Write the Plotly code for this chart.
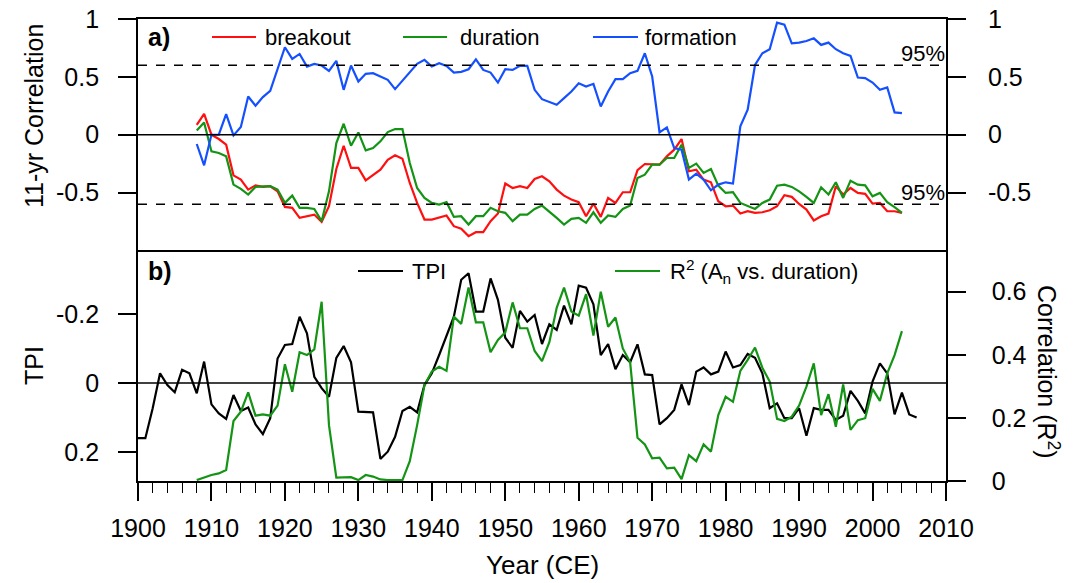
import plotly.graph_objects as go

# ---------------- data ----------------
years_a = list(range(1908, 2005))

breakout = [0.086, 0.181, 0.0, -0.037, -0.086, -0.351, -0.388, -0.474, -0.437, -0.451,
            -0.445, -0.489, -0.624, -0.632, -0.718, -0.704, -0.690, -0.753, -0.618, -0.296,
            -0.095, -0.287, -0.287, -0.394, -0.351, -0.302, -0.216, -0.178, -0.207, -0.417,
            -0.589, -0.733, -0.733, -0.718, -0.698, -0.790, -0.813, -0.876, -0.842, -0.842,
            -0.747, -0.681, -0.422, -0.460, -0.445, -0.460, -0.382, -0.359, -0.402, -0.474,
            -0.526, -0.560, -0.583, -0.704, -0.595, -0.710, -0.546, -0.589, -0.497, -0.497,
            -0.307, -0.253, -0.253, -0.259, -0.187, -0.129, -0.037, -0.316, -0.302, -0.388,
            -0.411, -0.575, -0.618, -0.612, -0.681, -0.661, -0.675, -0.670, -0.652, -0.618,
            -0.523, -0.537, -0.598, -0.647, -0.741, -0.704, -0.681, -0.445, -0.517, -0.460,
            -0.503, -0.511, -0.595, -0.589, -0.661, -0.661, -0.675]

duration = [0.037, 0.106, -0.144, -0.158, -0.187, -0.431, -0.468, -0.517, -0.451, -0.451,
            -0.445, -0.474, -0.589, -0.526, -0.632, -0.632, -0.641, -0.747, -0.489, -0.072,
            0.095, -0.095, 0.020, -0.135, -0.115, -0.057, 0.023, 0.049, 0.049, -0.244,
            -0.460, -0.546, -0.589, -0.603, -0.583, -0.710, -0.704, -0.776, -0.704, -0.704,
            -0.632, -0.661, -0.675, -0.747, -0.690, -0.690, -0.641, -0.612, -0.661, -0.718,
            -0.776, -0.727, -0.718, -0.761, -0.670, -0.761, -0.698, -0.710, -0.641, -0.612,
            -0.374, -0.345, -0.259, -0.259, -0.201, -0.201, -0.086, -0.287, -0.250, -0.330,
            -0.296, -0.440, -0.503, -0.497, -0.589, -0.618, -0.641, -0.589, -0.560, -0.440,
            -0.431, -0.451, -0.489, -0.537, -0.589, -0.454, -0.517, -0.411, -0.546, -0.397,
            -0.431, -0.437, -0.532, -0.503, -0.583, -0.626, -0.675]

formation = [-0.080, -0.264, 0.0, 0.0, 0.178, -0.006, 0.066, 0.330, 0.250, 0.325,
             0.379, 0.560, 0.756, 0.655, 0.698, 0.589, 0.612, 0.598, 0.552, 0.638,
             0.388, 0.598, 0.460, 0.526, 0.532, 0.503, 0.474, 0.394, 0.468, 0.546,
             0.612, 0.647, 0.589, 0.618, 0.595, 0.537, 0.543, 0.566, 0.652, 0.560,
             0.537, 0.451, 0.566, 0.560, 0.595, 0.595, 0.388, 0.307, 0.284, 0.259,
             0.316, 0.374, 0.445, 0.417, 0.440, 0.244, 0.374, 0.480, 0.480, 0.532,
             0.552, 0.704, 0.503, 0.020, 0.063, -0.115, -0.129, -0.388, -0.336, -0.388,
             -0.480, -0.431, -0.411, -0.422, 0.072, 0.216, 0.603, 0.704, 0.739, 0.968,
             0.951, 0.790, 0.796, 0.810, 0.833, 0.776, 0.796, 0.739, 0.704, 0.681,
             0.494, 0.489, 0.451, 0.388, 0.408, 0.193, 0.187]

years_tpi = list(range(1900, 2007))
tpi = [0.160, 0.160, 0.073, -0.028, 0.006, 0.027, -0.038, -0.028, 0.030, -0.062,
       0.062, 0.088, 0.104, 0.035, 0.081, 0.071, 0.120, 0.148, 0.102, -0.071,
       -0.110, -0.113, -0.192, -0.144, -0.018, 0.015, 0.040, -0.073, -0.107, -0.060,
       0.083, 0.083, 0.085, 0.220, 0.199, 0.156, 0.081, 0.069, 0.085, 0.006,
       -0.028, -0.081, -0.139, -0.192, -0.299, -0.318, -0.207, -0.207, -0.303, -0.241,
       -0.131, -0.102, -0.209, -0.178, -0.197, -0.113, -0.170, -0.154, -0.224, -0.170,
       -0.282, -0.276, -0.228, -0.081, -0.113, -0.040, -0.081, -0.060, -0.112, -0.025,
       -0.023, 0.120, 0.102, 0.078, 0.004, 0.064, -0.033, -0.045, -0.025, -0.033,
       -0.091, -0.045, -0.052, -0.084, -0.073, -0.028, 0.073, 0.059, 0.102, 0.102,
       0.073, 0.153, 0.073, 0.078, 0.078, 0.107, 0.095, 0.023, 0.052, 0.088,
       -0.004, -0.057, -0.028, 0.091, 0.028, 0.091, 0.100]

years_r2 = list(range(1908, 2005))
r2 = [0.003, 0.012, 0.019, 0.024, 0.035, 0.190, 0.220, 0.281, 0.207, 0.211,
      0.207, 0.239, 0.370, 0.283, 0.408, 0.399, 0.417, 0.568, 0.177, 0.011,
      0.011, 0.012, 0.003, 0.019, 0.014, 0.005, 0.003, 0.003, 0.003, 0.063,
      0.177, 0.304, 0.347, 0.362, 0.349, 0.521, 0.498, 0.613, 0.503, 0.503,
      0.408, 0.447, 0.471, 0.566, 0.484, 0.484, 0.412, 0.380, 0.440, 0.549,
      0.613, 0.537, 0.524, 0.592, 0.461, 0.600, 0.489, 0.518, 0.420, 0.376,
      0.137, 0.116, 0.072, 0.074, 0.040, 0.042, 0.006, 0.082, 0.063, 0.116,
      0.093, 0.209, 0.267, 0.251, 0.349, 0.384, 0.423, 0.359, 0.315, 0.197,
      0.190, 0.204, 0.239, 0.299, 0.373, 0.209, 0.275, 0.172, 0.306, 0.162,
      0.193, 0.199, 0.292, 0.254, 0.341, 0.399, 0.475]

sig95 = [0.6, -0.6]
x_ticks = list(range(1900, 2011, 10))
ya_ticks = [1, 0.5, 0, -0.5]
ya_ticktext = ["1", "0.5", "0", "-0.5"]
tpi_ticks = [-0.2, 0, 0.2]
tpi_ticktext = ["-0.2", "0", "0.2"]
r2_ticks = [0, 0.2, 0.4, 0.6]
r2_ticktext = ["0", "0.2", "0.4", "0.6"]

# ---------------- styles ----------------
FONT = "Liberation Sans, Arial, Helvetica, sans-serif"
RED = "#ff1010"
GREEN = "#149414"
BLUE = "#1450ff"
LW = 2.2
PAD = "\u00a0\u00a0\u00a0"   # spacing in front of the right-hand R2 tick labels

fig = go.Figure()
fig.add_trace(go.Scatter(x=years_a, y=breakout, mode="lines", line=dict(color=RED, width=LW),
                         xaxis="x2", yaxis="y", showlegend=False))
fig.add_trace(go.Scatter(x=years_a, y=duration, mode="lines", line=dict(color=GREEN, width=LW),
                         xaxis="x2", yaxis="y", showlegend=False))
fig.add_trace(go.Scatter(x=years_a, y=formation, mode="lines", line=dict(color=BLUE, width=LW),
                         xaxis="x2", yaxis="y", showlegend=False))
fig.add_trace(go.Scatter(x=years_tpi, y=tpi, mode="lines", line=dict(color="black", width=LW),
                         xaxis="x", yaxis="y3", showlegend=False))
fig.add_trace(go.Scatter(x=years_r2, y=r2, mode="lines", line=dict(color=GREEN, width=LW),
                         xaxis="x", yaxis="y4", showlegend=False))
# invisible companions so that the right-hand axes of panel a (ticks / labels) get drawn
for ya in ["y2", "y5"]:
    fig.add_trace(go.Scatter(x=years_a, y=formation, mode="lines", line=dict(color="white", width=0),
                             opacity=0, hoverinfo="skip", xaxis="x2", yaxis=ya, showlegend=False))

tickfont = dict(family=FONT, size=25, color="black")
common_y = dict(showline=True, linecolor="black", linewidth=1.8, ticks="outside", ticklen=18,
                tickwidth=1.5, tickcolor="black", showgrid=False, zeroline=False,
                tickfont=tickfont, automargin=False)
# right-hand label-only axis: transparent long ticks push the labels outward
label_y = dict(showline=False, ticks="outside", ticklen=36, tickwidth=1,
               tickcolor="rgba(0,0,0,0)", showgrid=False, zeroline=False,
               tickfont=tickfont, automargin=False, side="right")

split = 0.499
fig.update_layout(
    width=1081, height=583,
    margin=dict(l=138, r=135, t=19, b=102, autoexpand=False),
    paper_bgcolor="white", plot_bgcolor="white",
    xaxis=dict(domain=[0, 1], range=[1900, 2010], anchor="y3", tickvals=x_ticks,
               ticks="outside", ticklen=18, tickwidth=1.5, tickcolor="black",
               minor=dict(dtick=2, tick0=1900, ticks="outside", ticklen=10, tickwidth=1, tickcolor="black"),
               showline=True, linecolor="black", linewidth=1.8, mirror=False,
               showgrid=False, zeroline=False, tickfont=tickfont, ticklabelstandoff=6,
               automargin=False),
    xaxis2=dict(domain=[0, 1], range=[1900, 2010], anchor="y", showticklabels=False,
                ticks="", showline=True, linecolor="black", linewidth=1.8, mirror=True,
                showgrid=False, zeroline=False, automargin=False),
    yaxis=dict(domain=[split, 1], range=[-1, 1], anchor="x2", tickvals=ya_ticks,
               ticktext=ya_ticktext, ticklabelstandoff=14, **common_y),
    yaxis2=dict(domain=[split, 1], range=[-1, 1], anchor="x2", overlaying="y", side="right",
                tickvals=ya_ticks, showticklabels=False, **common_y),
    yaxis5=dict(domain=[split, 1], range=[-1, 1], anchor="x2", overlaying="y",
                tickvals=ya_ticks, ticktext=ya_ticktext, **label_y),
    yaxis3=dict(domain=[0, split], range=[0.284, -0.384], anchor="x", tickvals=tpi_ticks,
                ticktext=tpi_ticktext, ticklabelstandoff=14, **common_y),
    yaxis4=dict(domain=[0, split], range=[0, 0.7306], anchor="x", overlaying="y3", side="right",
                tickvals=r2_ticks, ticktext=[PAD + t for t in r2_ticktext], **common_y),
)

# reference lines
fig.add_shape(type="line", xref="x2", yref="y", x0=1900, x1=2010, y0=0, y1=0,
              line=dict(color="black", width=1.5))
for s in sig95:
    fig.add_shape(type="line", xref="x2", yref="y", x0=1900, x1=2010, y0=s, y1=s,
                  line=dict(color="black", width=1.5, dash="dash"))
    fig.add_annotation(x=2010, y=s, xref="x2", yref="y", text="95%", showarrow=False,
                       xanchor="right", yanchor="bottom", xshift=1, yshift=-3,
                       font=dict(family=FONT, size=22, color="black"))
fig.add_shape(type="line", xref="x", yref="y3", x0=1900, x1=2010, y0=0, y1=0,
              line=dict(color="black", width=1.5))

# manual legends
W, H = 808.0, 462.0
def px(xp):
    return (xp - 138) / W
def py(yp):
    return 1 - (yp - 19) / H

legend_font = dict(family=FONT, size=22, color="black")
items_a = [(212, 256, 263, RED, "breakout"), (403, 447, 458, GREEN, "duration"),
           (593, 638, 643, BLUE, "formation")]
for x0, x1, xt, col, txt in items_a:
    fig.add_shape(type="line", xref="paper", yref="paper", x0=px(x0), x1=px(x1),
                  y0=py(37), y1=py(37), line=dict(color=col, width=LW))
    fig.add_annotation(x=px(xt), y=py(37), xref="paper", yref="paper", text=txt,
                       showarrow=False, xanchor="left", yanchor="middle", font=legend_font)
items_b = [(358, 403, 410, "black", "TPI"), (615, 660, 668, GREEN, "R<sup>2</sup> (A<sub>n</sub> vs. duration)")]
for x0, x1, xt, col, txt in items_b:
    fig.add_shape(type="line", xref="paper", yref="paper", x0=px(x0), x1=px(x1),
                  y0=py(271), y1=py(271), line=dict(color=col, width=LW))
    fig.add_annotation(x=px(xt), y=py(271), xref="paper", yref="paper", text=txt,
                       showarrow=False, xanchor="left", yanchor="middle", font=legend_font)

fig.add_annotation(x=px(146), y=py(37), xref="paper", yref="paper", text="<b>a)</b>",
                   showarrow=False, xanchor="left", yanchor="middle",
                   font=dict(family=FONT, size=25, color="black"))
fig.add_annotation(x=px(146), y=py(271), xref="paper", yref="paper", text="<b>b)</b>",
                   showarrow=False, xanchor="left", yanchor="middle",
                   font=dict(family=FONT, size=25, color="black"))

title_font = dict(family=FONT, size=25, color="black")
fig.add_annotation(x=px(34), y=py(116), xref="paper", yref="paper", text="11-yr Correlation",
                   textangle=-90, showarrow=False, xanchor="center", yanchor="middle", font=title_font)
fig.add_annotation(x=px(34), y=py(366), xref="paper", yref="paper", text="TPI",
                   textangle=-90, showarrow=False, xanchor="center", yanchor="middle", font=title_font)
fig.add_annotation(x=px(1048), y=py(372), xref="paper", yref="paper", text="Correlation (R<sup>2</sup>)",
                   textangle=90, showarrow=False, xanchor="center", yanchor="middle", font=title_font)
fig.add_annotation(x=px(542), y=py(565), xref="paper", yref="paper", text="Year (CE)",
                   showarrow=False, xanchor="center", yanchor="middle",
                   font=dict(family=FONT, size=26, color="black"))

fig.write_html("out.html")
